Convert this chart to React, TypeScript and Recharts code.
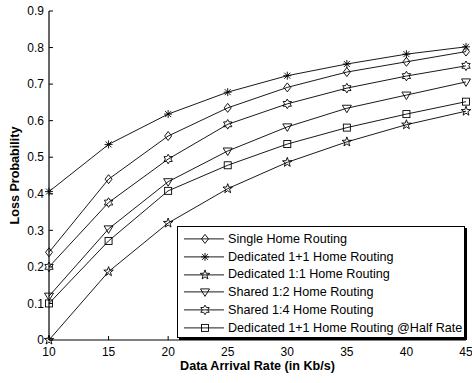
import React from 'react';
import { LineChart, Line, XAxis, YAxis, Legend } from 'recharts';

const rates = [10, 15, 20, 25, 30, 35, 40, 45];
const singleHome = [0.24, 0.44, 0.558, 0.635, 0.691, 0.733, 0.761, 0.789];
const dedicated1p1 = [0.406, 0.535, 0.618, 0.678, 0.723, 0.755, 0.782, 0.802];
const dedicated1to1 = [0.0, 0.187, 0.32, 0.414, 0.486, 0.542, 0.589, 0.626];
const shared1to2 = [0.12, 0.304, 0.433, 0.517, 0.583, 0.634, 0.67, 0.706];
const shared1to4 = [0.2, 0.376, 0.495, 0.59, 0.646, 0.689, 0.722, 0.75];
const dedicatedHalf = [0.1, 0.271, 0.408, 0.478, 0.536, 0.581, 0.618, 0.652];

const xTicks = [10, 15, 20, 25, 30, 35, 40, 45];
const yTicks = [0, 0.1, 0.2, 0.3, 0.4, 0.5, 0.6, 0.7, 0.8, 0.9];

const seriesNames = [
  'Single Home Routing',
  'Dedicated 1+1 Home Routing',
  'Dedicated 1:1 Home Routing',
  'Shared 1:2 Home Routing',
  'Shared 1:4 Home Routing',
  'Dedicated 1+1 Home Routing @Half Rate',
];
const seriesKeys = ['single', 'ded1p1', 'ded1to1', 'sh12', 'sh14', 'half'];
const seriesShapes = ['diamond', 'asterisk', 'pentagram', 'triangle', 'hexagram', 'square'];
const seriesValues = [singleHome, dedicated1p1, dedicated1to1, shared1to2, shared1to4, dedicatedHalf];

const data = rates.map((r, i) => {
  const row: any = { rate: r };
  seriesKeys.forEach((k, j) => {
    row[k] = seriesValues[j][i];
  });
  return row;
});

const FONT = '"Liberation Sans", Arial, sans-serif';

function starPoints(cx: number, cy: number, n: number, ro: number, ri: number) {
  const pts: string[] = [];
  for (let i = 0; i < 2 * n; i++) {
    const r = i % 2 === 0 ? ro : ri;
    const a = -Math.PI / 2 + (i * Math.PI) / n;
    pts.push(`${cx + r * Math.cos(a)},${cy + r * Math.sin(a)}`);
  }
  return pts.join(' ');
}

function Marker({ shape, cx, cy }: { shape: string; cx: number; cy: number }) {
  const common = { fill: 'none', stroke: '#000', strokeWidth: 0.9 };
  switch (shape) {
    case 'diamond':
      return (
        <polygon
          {...common}
          points={`${cx},${cy - 4.5} ${cx + 3.5},${cy} ${cx},${cy + 4.5} ${cx - 3.5},${cy}`}
        />
      );
    case 'asterisk':
      return (
        <g stroke="#000" strokeWidth={0.9}>
          <line x1={cx} y1={cy - 4} x2={cx} y2={cy + 4} />
          <line x1={cx - 4} y1={cy} x2={cx + 4} y2={cy} />
          <line x1={cx - 3} y1={cy - 3} x2={cx + 3} y2={cy + 3} />
          <line x1={cx - 3} y1={cy + 3} x2={cx + 3} y2={cy - 3} />
        </g>
      );
    case 'pentagram':
      return <polygon {...common} points={starPoints(cx, cy, 5, 5, 2)} />;
    case 'hexagram':
      return <polygon {...common} points={starPoints(cx, cy, 6, 4.8, 2.8)} />;
    case 'triangle':
      return (
        <polygon
          {...common}
          points={`${cx - 4.5},${cy - 3} ${cx + 4.5},${cy - 3} ${cx},${cy + 4.5}`}
        />
      );
    case 'square':
    default:
      return <rect {...common} x={cx - 3.5} y={cy - 3.5} width={7} height={7} />;
  }
}

const renderLegend = () => (
  <div
    style={{
      background: '#fff',
      border: '1px solid #000',
      boxShadow: '2px 2px 0 #000',
      boxSizing: 'border-box',
      width: 288,
      height: 112,
      paddingTop: 3,
      fontFamily: FONT,
      fontSize: 12.6,
      color: '#000',
    }}
  >
    {seriesNames.map((name, i) => (
      <div key={name} style={{ display: 'flex', alignItems: 'center', height: 17.8 }}>
        <svg width={50} height={17.8} style={{ flex: 'none' }}>
          <line x1={6} y1={8.9} x2={46} y2={8.9} stroke="#000" strokeWidth={0.9} />
          <Marker shape={seriesShapes[i]} cx={27} cy={8.9} />
        </svg>
        <span style={{ whiteSpace: 'nowrap' }}>{name}</span>
      </div>
    ))}
  </div>
);

const tickStyle = { fontSize: 12, fill: '#000', fontFamily: FONT };
const emptyTick = () => <g />;

export default function App() {
  return (
    <div style={{ position: 'absolute', left: 0, top: 0, width: 472, height: 383, background: '#fff' }}>
      <LineChart
        width={472}
        height={383}
        data={data}
        margin={{ top: 11, right: 6, bottom: 0, left: 0 }}
        style={{ fontFamily: FONT }}
      >
        <XAxis
          dataKey="rate"
          type="number"
          domain={[10, 45]}
          ticks={xTicks}
          height={43}
          tickSize={-4}
          tickMargin={11}
          tick={tickStyle}
          stroke="#000"
          axisLine={{ stroke: '#000', strokeWidth: 1.2 }}
          tickLine={{ stroke: '#000' }}
          label={{
            value: 'Data Arrival Rate (in Kb/s)',
            position: 'insideBottom',
            offset: 13,
            style: { fontSize: 12.6, fontWeight: 'bold', fill: '#000', fontFamily: FONT },
          }}
        />
        <XAxis
          xAxisId="top"
          orientation="top"
          type="number"
          domain={[10, 45]}
          ticks={xTicks}
          height={0}
          tickSize={-4}
          tick={emptyTick}
          axisLine={{ stroke: '#000', strokeWidth: 1.2 }}
          tickLine={{ stroke: '#000' }}
        />
        <YAxis
          type="number"
          domain={[0, 0.9]}
          ticks={yTicks}
          width={49}
          tickSize={-4}
          tickMargin={9}
          tick={tickStyle}
          tickFormatter={(v: number) => (v === 0 ? '0' : v.toFixed(1))}
          axisLine={{ stroke: '#000', strokeWidth: 1.2 }}
          tickLine={{ stroke: '#000' }}
          label={{
            content: (props: any) => {
              const vb = props.viewBox || {};
              const x = (vb.x || 0) + 15;
              const y = (vb.y || 0) + (vb.height || 0) / 2;
              return (
                <text
                  x={x}
                  y={y}
                  transform={`rotate(-90 ${x} ${y})`}
                  textAnchor="middle"
                  dominantBaseline="central"
                  style={{ fontSize: 12.6, fontWeight: 'bold', fill: '#000', fontFamily: FONT }}
                >
                  Loss Probability
                </text>
              );
            },
          }}
        />
        <YAxis
          yAxisId="right"
          orientation="right"
          type="number"
          domain={[0, 0.9]}
          ticks={yTicks}
          width={0}
          tickSize={-4}
          tick={emptyTick}
          axisLine={{ stroke: '#000', strokeWidth: 1.2 }}
          tickLine={{ stroke: '#000' }}
        />
        <Legend
          layout="horizontal"
          verticalAlign="middle"
          align="center"
          content={renderLegend}
          wrapperStyle={{ left: 177, top: 226, width: 290, height: 114 }}
        />
        {seriesKeys.map((k, i) => (
          <Line
            key={k}
            dataKey={k}
            name={seriesNames[i]}
            stroke="#000"
            strokeWidth={0.9}
            isAnimationActive={false}
            dot={(p: any) => (
              <Marker key={`${k}-${p.index}`} shape={seriesShapes[i]} cx={p.cx} cy={p.cy} />
            )}
            activeDot={false}
          />
        ))}
      </LineChart>
    </div>
  );
}
